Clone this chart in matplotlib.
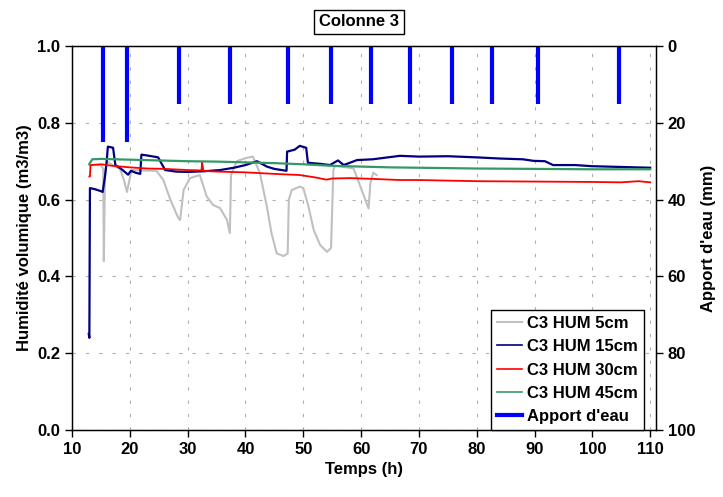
import matplotlib
import matplotlib.pyplot as plt
from matplotlib.lines import Line2D
matplotlib.use('Agg')

plt.rcParams['font.family'] = ['Liberation Sans', 'DejaVu Sans']
plt.rcParams['font.weight'] = 'bold'
plt.rcParams['font.size'] = 12

# C3 HUM 5cm
t_5 = [13.0, 14.0, 15.0, 15.4, 15.5, 15.7, 16.0, 17.0, 18.3, 19.0, 19.5, 20.3, 22.0, 24.6, 25.8,
       27.0, 28.0, 28.4, 28.7, 29.3, 30.4, 32.1, 33.3, 34.4, 35.6, 36.8, 37.3, 37.5, 38.5, 40.0,
       41.3, 42.5, 43.7, 44.5, 45.4, 46.6, 47.3, 47.5, 48.0, 49.4, 50.0, 50.9, 51.8, 52.9, 54.1,
       54.8, 55.2, 55.5, 57.0, 58.7, 60.1, 61.3, 61.6, 62.1, 62.7]
hum_5 = [0.69, 0.69, 0.69, 0.68, 0.44, 0.66, 0.70, 0.69, 0.68, 0.65, 0.62, 0.677, 0.676, 0.675, 0.651,
         0.60, 0.565, 0.552, 0.547, 0.625, 0.656, 0.664, 0.608, 0.586, 0.578, 0.547, 0.513, 0.664, 0.70, 0.708,
         0.712, 0.669, 0.582, 0.513, 0.46, 0.453, 0.46, 0.60, 0.625, 0.634, 0.63, 0.582, 0.521, 0.482, 0.464,
         0.474, 0.677, 0.688, 0.685, 0.681, 0.625, 0.577, 0.642, 0.67, 0.664]

# C3 HUM 15cm
t_15 = [12.9, 13.0, 13.1, 14.0, 15.0, 15.3, 15.7, 16.0, 16.2, 17.1, 17.5, 18.5, 19.7, 20.2, 21.0,
        21.8, 22.0, 23.0, 24.9, 26.1, 28.0, 30.0, 33.0, 35.6, 38.0, 40.0, 42.0, 43.7, 45.0, 47.1,
        47.2, 48.5, 49.4, 50.5, 50.8, 53.0, 54.6, 56.0, 57.0, 59.3, 62.0, 66.7, 70.0, 75.0, 80.0,
        84.0, 88.0, 89.8, 91.8, 93.2, 97.0, 100.0, 105.0, 110.0]
hum_15 = [0.25, 0.24, 0.63, 0.627, 0.622, 0.62, 0.66, 0.70, 0.738, 0.735, 0.69, 0.68, 0.665, 0.675, 0.67,
          0.667, 0.717, 0.715, 0.71, 0.677, 0.673, 0.672, 0.674, 0.677, 0.683, 0.69, 0.70, 0.686, 0.68, 0.675,
          0.725, 0.73, 0.74, 0.735, 0.696, 0.693, 0.69, 0.702, 0.69, 0.703, 0.705, 0.714, 0.712, 0.713, 0.71,
          0.707, 0.705, 0.701, 0.70, 0.69, 0.69, 0.687, 0.685, 0.683]

# C3 HUM 30cm
t_30 = [13.0, 13.1, 13.2, 15.0, 17.0, 20.0, 23.0, 26.0, 30.0, 32.4, 32.5, 32.7, 35.0, 40.0, 45.0,
        49.4, 52.0, 54.0, 55.0, 58.0, 62.0, 66.7, 70.0, 80.0, 90.0, 100.0, 105.0, 108.0, 110.0]
hum_30 = [0.66, 0.66, 0.69, 0.692, 0.688, 0.684, 0.681, 0.68, 0.677, 0.676, 0.699, 0.675, 0.673, 0.671, 0.667,
          0.664, 0.658, 0.652, 0.655, 0.656, 0.654, 0.651, 0.651, 0.648, 0.647, 0.646, 0.645, 0.648, 0.645]

# C3 HUM 45cm
t_45 = [13.0, 13.5, 15.0, 20.0, 25.0, 30.0, 35.0, 40.0, 45.0, 50.0, 55.0, 60.0, 65.0, 70.0, 80.0,
        90.0, 100.0, 110.0]
hum_45 = [0.693, 0.705, 0.706, 0.704, 0.702, 0.700, 0.699, 0.697, 0.695, 0.692, 0.688, 0.686, 0.684, 0.683, 0.681,
          0.680, 0.679, 0.679]

# Apport d'eau (mm)
t_apport = [15.4, 19.5, 28.5, 37.3, 47.4, 54.8, 61.7, 68.5, 75.7, 82.7, 90.6, 104.6]
apport = [25, 25, 15, 15, 15, 15, 15, 15, 15, 15, 15, 15]

fig = plt.figure(figsize=(7.23, 4.97), dpi=100)
ax = fig.add_axes([0.0996, 0.1348, 0.8077, 0.7726])

ax.plot(t_5, hum_5, color='#C0C0C0', lw=1.5)
ax.plot(t_15, hum_15, color='#000080', lw=1.6)
ax.plot(t_30, hum_30, color='#FF0000', lw=1.3)
ax.plot(t_45, hum_45, color='#339966', lw=1.6)

ax.set_xlim(10, 111)
ax.set_ylim(0, 1)
ax.set_xticks(range(10, 111, 10))
ax.set_yticks([0.0, 0.2, 0.4, 0.6, 0.8, 1.0])
ax.set_yticklabels(['0.0', '0.2', '0.4', '0.6', '0.8', '1.0'])
ax.grid(True, color='#B0B0B0', linestyle=(0, (3, 9)), lw=0.8)
ax.tick_params(direction='out', length=5, width=1)
ax.set_xlabel('Temps (h)', fontweight='bold')
ax.set_ylabel('Humidité volumique (m3/m3)', fontweight='bold')
for s in ax.spines.values():
    s.set_linewidth(1)

ax2 = ax.twinx()
ax2.vlines(t_apport, 0, apport, color='#0000FF', lw=3)
ax2.set_ylim(100, 0)
ax2.set_yticks([0, 20, 40, 60, 80, 100])
ax2.tick_params(direction='out', length=5, width=1)
ax2.set_ylabel("Apport d'eau (mm)", fontweight='bold')

fig.text(0.4965, 0.956, 'Colonne 3', fontweight='bold', fontsize=12, ha='center', va='center',
         bbox=dict(facecolor='white', edgecolor='black', lw=1, pad=3.5))

handles = [
    Line2D([], [], color='#C0C0C0', lw=1.5),
    Line2D([], [], color='#000080', lw=1.2),
    Line2D([], [], color='#FF0000', lw=1.2),
    Line2D([], [], color='#339966', lw=1.2),
    Line2D([], [], color='#0000FF', lw=3),
]
labels = ['C3 HUM 5cm', 'C3 HUM 15cm', 'C3 HUM 30cm', 'C3 HUM 45cm', "Apport d'eau"]
leg = ax2.legend(handles, labels, loc='lower right', bbox_to_anchor=(0.979, 0.0),
                 borderaxespad=0, fancybox=False, edgecolor='black', framealpha=1,
                 handlelength=1.5, handletextpad=0.3, labelspacing=0.5, borderpad=0.35)
leg.get_frame().set_linewidth(1)

plt.savefig('out.png', dpi=100)
